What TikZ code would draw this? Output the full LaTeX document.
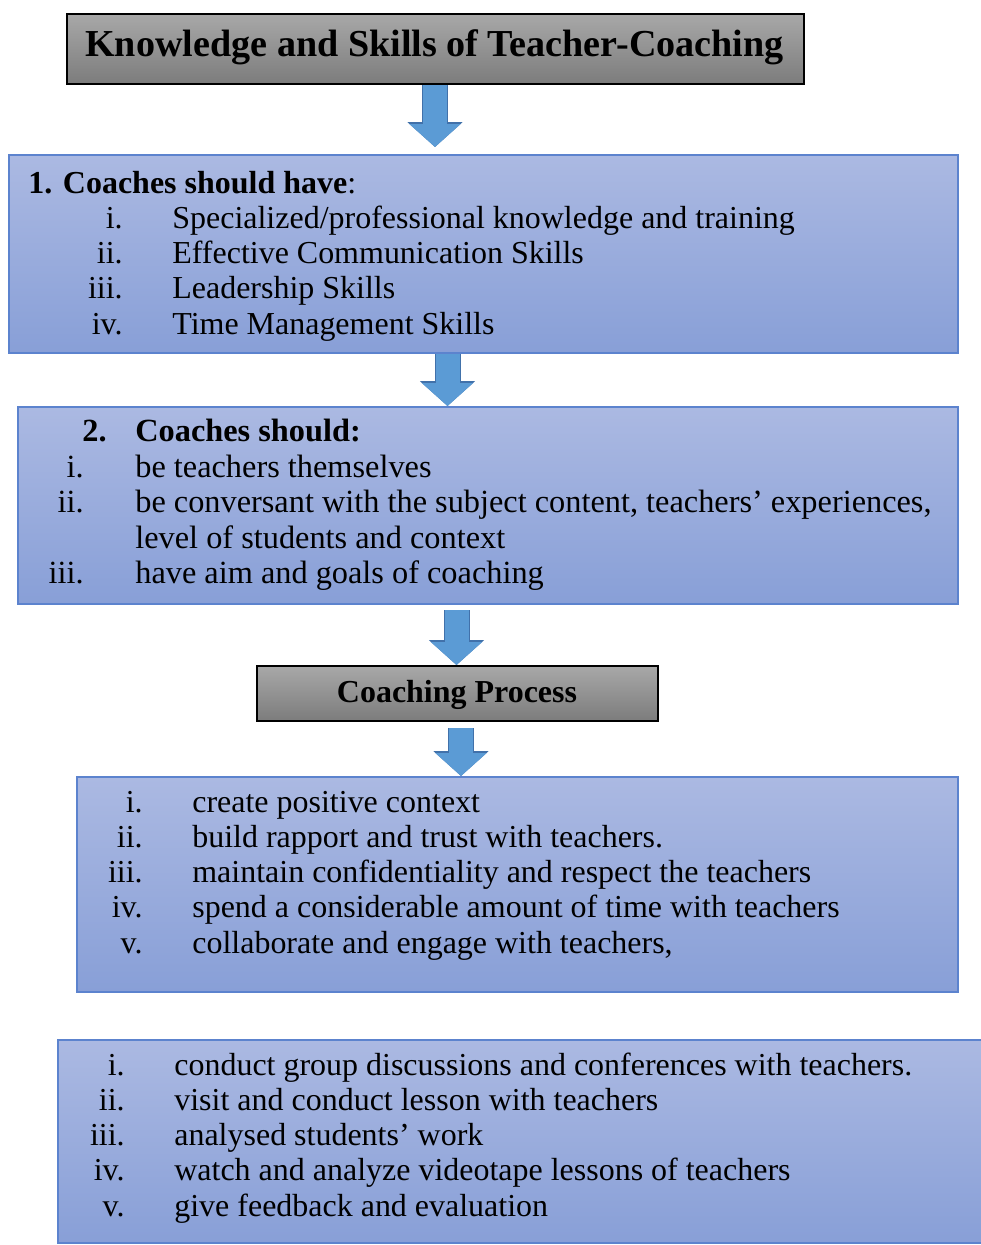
\documentclass[tikz,border=0pt]{standalone}
\usepackage{fontspec}
\setmainfont{Liberation Serif}
\usetikzlibrary{arrows.meta,fit}

\definecolor{bluetop}{RGB}{171,185,226}
\definecolor{bluebot}{RGB}{136,159,215}
\definecolor{blueline}{RGB}{92,131,206}
\definecolor{graytop}{RGB}{168,168,168}
\definecolor{graybot}{RGB}{124,124,124}
\definecolor{arrowfill}{RGB}{91,155,213}
\definecolor{arrowline}{RGB}{65,113,170}

\newcommand{\bodyfont}{\fontsize{18.2pt}{22pt}\selectfont}
\newcommand{\widefont}{\fontsize{18.4pt}{22pt}\selectfont}
\newcommand{\headfont}{\fontsize{21.7pt}{26pt}\selectfont\bfseries}

\begin{document}
\begin{tikzpicture}[x=0.02cm, y=-0.02cm,
    bluebox/.style={draw=blueline, line width=0.04cm, top color=bluetop, bottom color=bluebot, inner sep=0pt},
    graybox/.style={draw=black, line width=0.04cm, top color=graytop, bottom color=graybot, inner sep=0pt},
    bigarrow/.style={arrowfill, line width=0.48cm, -{Triangle[width=1.0cm,length=0.46cm]},
        preaction={draw=arrowline, line width=0.52cm, -{Triangle[width=1.08cm,length=0.5cm]}}},
    num/.style={anchor=base east, inner sep=0pt, font=\bodyfont},
    itm/.style={anchor=base west, inner sep=0pt, font=\bodyfont}]
\useasboundingbox (0,0) rectangle (981,1245);

% boxes
\node[graybox, fit={(67,14) (804,84)}] (title) {};
\node[bluebox, fit={(9,155) (958,353)}] (have) {};
\node[bluebox, fit={(18,407) (958,604)}] (should) {};
\node[graybox, fit={(257,666) (658,721)}] (process) {};
\node[bluebox, fit={(77,777) (958,992)}] (steps) {};
\node[bluebox, fit={(58,1040) (990,1243)}] (more) {};

% arrows
\coordinate (a1) at (435,0);
\coordinate (a2) at (447.5,0);
\coordinate (a3) at (456.5,0);
\coordinate (a4) at (461,0);
\draw[bigarrow, shorten >=0.14cm] (title.south -| a1) -- (have.north -| a1);
\draw[bigarrow] (have.south -| a2) -- (should.north -| a2);
\draw[bigarrow, shorten <=0.1cm] (should.south -| a3) -- (process.north -| a3);
\draw[bigarrow, shorten <=0.12cm] (process.south -| a4) -- (steps.north -| a4);

% titles
\node[anchor=base, inner sep=0pt, font=\headfont] (titletxt) at (434.5,56) {Knowledge and Skills of Teacher-Coaching};
\node[anchor=base, inner sep=0pt, font=\bodyfont\bfseries] (processtxt) at (457,702) {Coaching Process};

% box 1
\node[itm] (havehead) at (28,193) {\textbf{1. Coaches should have}:};
\foreach \n/\t [count=\k] in {i./{Specialized/professional knowledge and training},
    ii./{Effective Communication Skills}, iii./{Leadership Skills}, iv./{Time Management Skills}}{
  \node[num] (hn\k) at (123,193+35.25*\k) {\n};
  \node[itm] (ht\k) at (172,193+35.25*\k) {\t};
}

% box 2
\begin{scope}[num/.append style={font=\widefont}, itm/.append style={font=\widefont}]
\node[num, font=\widefont\bfseries] (shouldnum) at (107,441) {2.};
\node[itm, font=\widefont\bfseries] (shouldhead) at (135,441) {Coaches should:};
\node[num] (sn1) at (84,477) {i.};
\node[itm] (st1) at (135,477) {be teachers themselves};
\node[num] (sn2) at (84,512) {ii.};
\node[itm] (st2) at (135,512) {be conversant with the subject content, teachers’ experiences,};
\node[itm] (st2b) at (135,548) {level of students and context};
\node[num] (sn3) at (84,583) {iii.};
\node[itm] (st3) at (135,583) {have aim and goals of coaching};
\end{scope}

% box 3
\foreach \n/\t [count=\k from 0] in {i./{create positive context},
    ii./{build rapport and trust with teachers.},
    iii./{maintain confidentiality and respect the teachers},
    iv./{spend a considerable amount of time with teachers},
    v./{collaborate and engage with teachers,}}{
  \node[num] (pn\k) at (143,812+35.25*\k) {\n};
  \node[itm] (pt\k) at (192,812+35.25*\k) {\t};
}

% box 4
\foreach \n/\t [count=\k from 0] in {i./{conduct group discussions and conferences with teachers.},
    ii./{visit and conduct lesson with teachers},
    iii./{analysed students’ work},
    iv./{watch and analyze videotape lessons of teachers},
    v./{give feedback and evaluation}}{
  \node[num] (mn\k) at (125,1075+35.25*\k) {\n};
  \node[itm] (mt\k) at (174,1075+35.25*\k) {\t};
}
\end{tikzpicture}
\end{document}
